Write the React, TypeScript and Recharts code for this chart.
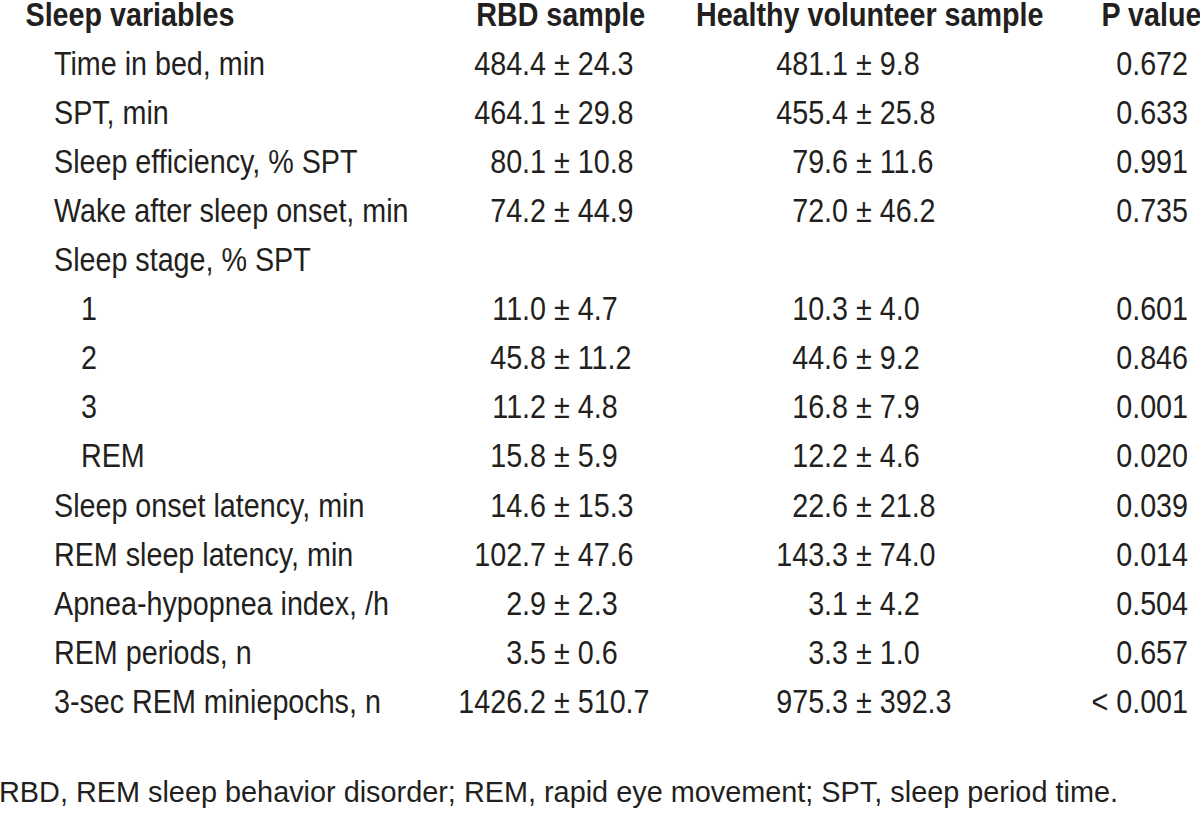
import React from 'react';
import { ComposedChart, Bar, XAxis, YAxis } from 'recharts';

// ---- data ----
const headers = ['Sleep variables', 'RBD sample', 'Healthy volunteer sample', 'P value'];
const variables = [
  'Time in bed, min',
  'SPT, min',
  'Sleep efficiency, % SPT',
  'Wake after sleep onset, min',
  'Sleep stage, % SPT',
  '1',
  '2',
  '3',
  'REM',
  'Sleep onset latency, min',
  'REM sleep latency, min',
  'Apnea-hypopnea index, /h',
  'REM periods, n',
  '3-sec REM miniepochs, n',
];
const indentLevels = [0, 0, 0, 0, 0, 1, 1, 1, 1, 0, 0, 0, 0, 0];
const rbdMean: (number | null)[] = [484.4, 464.1, 80.1, 74.2, null, 11.0, 45.8, 11.2, 15.8, 14.6, 102.7, 2.9, 3.5, 1426.2];
const rbdSD: (number | null)[] = [24.3, 29.8, 10.8, 44.9, null, 4.7, 11.2, 4.8, 5.9, 15.3, 47.6, 2.3, 0.6, 510.7];
const hvMean: (number | null)[] = [481.1, 455.4, 79.6, 72.0, null, 10.3, 44.6, 16.8, 12.2, 22.6, 143.3, 3.1, 3.3, 975.3];
const hvSD: (number | null)[] = [9.8, 25.8, 11.6, 46.2, null, 4.0, 9.2, 7.9, 4.6, 21.8, 74.0, 4.2, 1.0, 392.3];
const pValues = ['0.672', '0.633', '0.991', '0.735', '', '0.601', '0.846', '0.001', '0.020', '0.039', '0.014', '0.504', '0.657', '< 0.001'];
const footnote = 'RBD, REM sleep behavior disorder; REM, rapid eye movement; SPT, sleep period time.';

// ---- layout / style ----
const W = 1200;
const H = 818;
const FONT = "'Liberation Sans', Arial, Helvetica, sans-serif";
const INK = '#231f20';
const FS = 33;
const SX = 0.87;
const ROW_BAND = 49.1;
const TABLE_H = ROW_BAND * (variables.length + 1);
const BASE_DY = 1;
const COL = {
  labelHeader: 25.5,
  label: 54,
  indent: 27,
  rbdHeaderMid: 560.7,
  rbdPm: 554,
  hvHeaderMid: 869.7,
  hvPm: 856,
  pHeader: 1101.5,
  pRight: 1188,
};
const SPACE_W = 0.278 * FS * SX;

type Row = {
  variable: string;
  header: boolean;
  indent: number;
  rbdM: string;
  rbdS: string;
  hvM: string;
  hvS: string;
  p: string;
};

const rows: Row[] = [
  { variable: headers[0], header: true, indent: 0, rbdM: '', rbdS: '', hvM: '', hvS: '', p: '' },
  ...variables.map((v, i) => ({
    variable: v,
    header: false,
    indent: indentLevels[i],
    rbdM: rbdMean[i] == null ? '' : (rbdMean[i] as number).toFixed(1),
    rbdS: rbdSD[i] == null ? '' : (rbdSD[i] as number).toFixed(1),
    hvM: hvMean[i] == null ? '' : (hvMean[i] as number).toFixed(1),
    hvS: hvSD[i] == null ? '' : (hvSD[i] as number).toFixed(1),
    p: pValues[i],
  })),
];
const rowByKey: Record<string, Row> = {};
rows.forEach((r) => (rowByKey[r.variable] = r));

const T = ({ x, y, anchor, bold, children }: any) => (
  <g transform={`translate(${x},${y}) scale(${SX},1)`}>
    <text
      x={0}
      y={0}
      textAnchor={anchor}
      fontFamily={FONT}
      fontSize={FS}
      fontWeight={bold ? 'bold' : 'normal'}
      fill={INK}
    >
      {children}
    </text>
  </g>
);

const PmCell = ({ pm, y, m, s }: any) => {
  if (!m) return null;
  return (
    <g>
      <T x={pm - SPACE_W} y={y} anchor="end">{m}</T>
      <T x={pm} y={y} anchor="start">{`\u00b1 ${s}`}</T>
    </g>
  );
};

const RowTick = (props: any) => {
  const { y, payload } = props;
  const row = rowByKey[payload.value];
  if (!row) return null;
  const by = y + BASE_DY;
  if (row.header) {
    return (
      <g>
        <T x={COL.labelHeader} y={by} anchor="start" bold>{headers[0]}</T>
        <T x={COL.rbdHeaderMid} y={by} anchor="middle" bold>{headers[1]}</T>
        <T x={COL.hvHeaderMid} y={by} anchor="middle" bold>{headers[2]}</T>
        <T x={COL.pHeader} y={by} anchor="start" bold>{headers[3]}</T>
      </g>
    );
  }
  return (
    <g>
      <T x={COL.label + row.indent * COL.indent} y={by} anchor="start">{row.variable}</T>
      <PmCell pm={COL.rbdPm} y={by} m={row.rbdM} s={row.rbdS} />
      <PmCell pm={COL.hvPm} y={by} m={row.hvM} s={row.hvS} />
      {row.p ? <T x={COL.pRight} y={by} anchor="end">{row.p}</T> : null}
    </g>
  );
};

export default function App() {
  return (
    <div style={{ position: 'absolute', left: 0, top: 0, width: W, height: H, background: '#fff' }}>
      <ComposedChart
        width={W}
        height={H}
        data={rows}
        layout="vertical"
        margin={{ top: 0, right: 0, bottom: H - TABLE_H, left: 0 }}
        style={{ overflow: 'visible' }}
      >
        <XAxis type="number" domain={[0, 1]} hide />
        <YAxis
          type="category"
          dataKey="variable"
          width={1}
          interval={0}
          axisLine={false}
          tickLine={false}
          tick={<RowTick />}
        />
        <Bar dataKey={() => 0} fill="transparent" isAnimationActive={false} />
      </ComposedChart>
      <svg
        width={W}
        height={H}
        style={{ position: 'absolute', left: 0, top: 0, pointerEvents: 'none' }}
      >
        <text x={-1} y={801.7} fontFamily={FONT} fontSize={28.85} fill={INK}>
          {footnote}
        </text>
      </svg>
    </div>
  );
}
